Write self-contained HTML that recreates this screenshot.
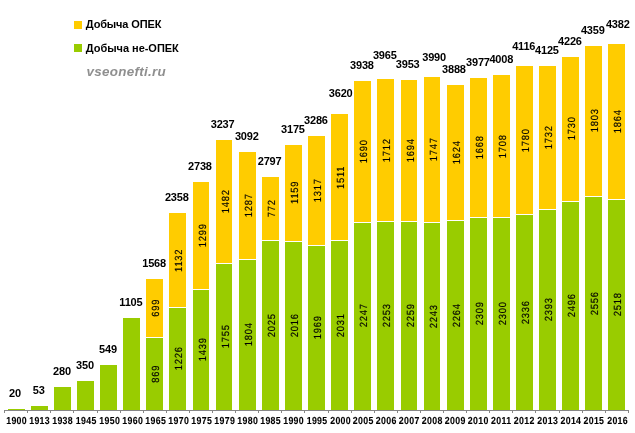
<!DOCTYPE html>
<html lang="ru"><head><meta charset="utf-8"><title>Добыча нефти</title>
<style>
html,body{margin:0;padding:0;background:#fff;}
body{width:635px;height:433px;overflow:hidden;}
svg{display:block;}
text{font-family:"Liberation Sans",sans-serif;fill:#000;}
.t{font-weight:bold;font-size:11px;text-anchor:middle;letter-spacing:-0.2px;}
.x{font-weight:bold;font-size:10.2px;text-anchor:middle;text-rendering:geometricPrecision;letter-spacing:0.4px;stroke:#000;stroke-width:0.1px;}
.i{font-size:10.4px;text-anchor:middle;letter-spacing:0.85px;text-rendering:geometricPrecision;stroke:#000;stroke-width:0.15px;}
.l{font-weight:bold;font-size:11px;}
.w{font-weight:bold;font-style:italic;font-size:13.4px;fill:#8f8f8f;letter-spacing:0.28px;}
</style></head><body>
<svg width="635" height="433" viewBox="0 0 635 433" shape-rendering="crispEdges">
<rect width="635" height="433" fill="#fff"/>
<rect x="8" y="409" width="17" height="1" fill="#99CC00"/>
<rect x="31" y="406" width="17" height="4" fill="#99CC00"/>
<rect x="54" y="387" width="17" height="23" fill="#99CC00"/>
<rect x="77" y="381" width="17" height="29" fill="#99CC00"/>
<rect x="100" y="365" width="17" height="45" fill="#99CC00"/>
<rect x="123" y="318" width="17" height="92" fill="#99CC00"/>
<rect x="146" y="279" width="17" height="58" fill="#FFCC00"/>
<rect x="146" y="338" width="17" height="72" fill="#99CC00"/>
<rect x="169" y="213" width="17" height="94" fill="#FFCC00"/>
<rect x="169" y="308" width="17" height="102" fill="#99CC00"/>
<rect x="193" y="182" width="16" height="107" fill="#FFCC00"/>
<rect x="193" y="290" width="16" height="120" fill="#99CC00"/>
<rect x="216" y="140" width="16" height="123" fill="#FFCC00"/>
<rect x="216" y="264" width="16" height="146" fill="#99CC00"/>
<rect x="239" y="152" width="17" height="107" fill="#FFCC00"/>
<rect x="239" y="260" width="17" height="150" fill="#99CC00"/>
<rect x="262" y="177" width="17" height="63" fill="#FFCC00"/>
<rect x="262" y="241" width="17" height="169" fill="#99CC00"/>
<rect x="285" y="145" width="17" height="96" fill="#FFCC00"/>
<rect x="285" y="242" width="17" height="168" fill="#99CC00"/>
<rect x="308" y="136" width="17" height="109" fill="#FFCC00"/>
<rect x="308" y="246" width="17" height="164" fill="#99CC00"/>
<rect x="331" y="114" width="17" height="126" fill="#FFCC00"/>
<rect x="331" y="241" width="17" height="169" fill="#99CC00"/>
<rect x="354" y="81" width="17" height="141" fill="#FFCC00"/>
<rect x="354" y="223" width="17" height="187" fill="#99CC00"/>
<rect x="377" y="79" width="17" height="142" fill="#FFCC00"/>
<rect x="377" y="222" width="17" height="188" fill="#99CC00"/>
<rect x="401" y="80" width="16" height="141" fill="#FFCC00"/>
<rect x="401" y="222" width="16" height="188" fill="#99CC00"/>
<rect x="424" y="77" width="16" height="145" fill="#FFCC00"/>
<rect x="424" y="223" width="16" height="187" fill="#99CC00"/>
<rect x="447" y="85" width="17" height="135" fill="#FFCC00"/>
<rect x="447" y="221" width="17" height="189" fill="#99CC00"/>
<rect x="470" y="78" width="17" height="139" fill="#FFCC00"/>
<rect x="470" y="218" width="17" height="192" fill="#99CC00"/>
<rect x="493" y="75" width="17" height="142" fill="#FFCC00"/>
<rect x="493" y="218" width="17" height="192" fill="#99CC00"/>
<rect x="516" y="66" width="17" height="148" fill="#FFCC00"/>
<rect x="516" y="215" width="17" height="195" fill="#99CC00"/>
<rect x="539" y="66" width="17" height="143" fill="#FFCC00"/>
<rect x="539" y="210" width="17" height="200" fill="#99CC00"/>
<rect x="562" y="57" width="17" height="144" fill="#FFCC00"/>
<rect x="562" y="202" width="17" height="208" fill="#99CC00"/>
<rect x="585" y="46" width="17" height="150" fill="#FFCC00"/>
<rect x="585" y="197" width="17" height="213" fill="#99CC00"/>
<rect x="608" y="44" width="17" height="155" fill="#FFCC00"/>
<rect x="608" y="200" width="17" height="210" fill="#99CC00"/>
<rect x="4" y="410" width="625" height="1" fill="#868686"/>
<path d="M4 411h1v2h-1zM27 411h1v2h-1zM50 411h1v2h-1zM73 411h1v2h-1zM97 411h1v2h-1zM120 411h1v2h-1zM143 411h1v2h-1zM166 411h1v2h-1zM189 411h1v2h-1zM212 411h1v2h-1zM235 411h1v2h-1zM258 411h1v2h-1zM281 411h1v2h-1zM304 411h1v2h-1zM328 411h1v2h-1zM351 411h1v2h-1zM374 411h1v2h-1zM397 411h1v2h-1zM420 411h1v2h-1zM443 411h1v2h-1zM466 411h1v2h-1zM489 411h1v2h-1zM512 411h1v2h-1zM535 411h1v2h-1zM559 411h1v2h-1zM582 411h1v2h-1zM605 411h1v2h-1zM628 411h1v2h-1z" fill="#868686"/>
<g shape-rendering="auto">
<text class="t" x="14.9" y="397.0">20</text>
<text class="x" transform="translate(16.6,424) scale(0.86,1)">1900</text>
<text class="t" x="38.7" y="394.0">53</text>
<text class="x" transform="translate(39.6,424) scale(0.86,1)">1913</text>
<text class="t" x="62.0" y="375.1">280</text>
<text class="x" transform="translate(62.6,424) scale(0.86,1)">1938</text>
<text class="t" x="85.0" y="369.0">350</text>
<text class="x" transform="translate(86.2,424) scale(0.86,1)">1945</text>
<text class="t" x="108.0" y="353.0">549</text>
<text class="x" transform="translate(109.7,424) scale(0.86,1)">1950</text>
<text class="t" x="130.9" y="306.0">1105</text>
<text class="x" transform="translate(132.7,424) scale(0.86,1)">1960</text>
<text class="i" transform="translate(159,307.8) rotate(-90) scale(0.9,1)">699</text>
<text class="i" transform="translate(159,373.8) rotate(-90) scale(0.9,1)">869</text>
<text class="t" x="154.1" y="267.3">1568</text>
<text class="x" transform="translate(155.7,424) scale(0.86,1)">1965</text>
<text class="i" transform="translate(182,260.3) rotate(-90) scale(0.9,1)">1132</text>
<text class="i" transform="translate(182,358.3) rotate(-90) scale(0.9,1)">1226</text>
<text class="t" x="176.8" y="201.0">2358</text>
<text class="x" transform="translate(178.7,424) scale(0.86,1)">1970</text>
<text class="i" transform="translate(206,235.3) rotate(-90) scale(0.9,1)">1299</text>
<text class="i" transform="translate(206,349.3) rotate(-90) scale(0.9,1)">1439</text>
<text class="t" x="199.9" y="170.0">2738</text>
<text class="x" transform="translate(201.7,424) scale(0.86,1)">1975</text>
<text class="i" transform="translate(229,201.3) rotate(-90) scale(0.9,1)">1482</text>
<text class="i" transform="translate(229,336.3) rotate(-90) scale(0.9,1)">1755</text>
<text class="t" x="222.6" y="127.9">3237</text>
<text class="x" transform="translate(224.7,424) scale(0.86,1)">1979</text>
<text class="i" transform="translate(252,205.3) rotate(-90) scale(0.9,1)">1287</text>
<text class="i" transform="translate(252,334.3) rotate(-90) scale(0.9,1)">1804</text>
<text class="t" x="246.8" y="140.2">3092</text>
<text class="x" transform="translate(247.7,424) scale(0.86,1)">1980</text>
<text class="i" transform="translate(275,208.3) rotate(-90) scale(0.9,1)">772</text>
<text class="i" transform="translate(275,325.3) rotate(-90) scale(0.9,1)">2025</text>
<text class="t" x="269.6" y="165.2">2797</text>
<text class="x" transform="translate(270.6,424) scale(0.86,1)">1985</text>
<text class="i" transform="translate(298,192.3) rotate(-90) scale(0.9,1)">1159</text>
<text class="i" transform="translate(298,325.3) rotate(-90) scale(0.9,1)">2016</text>
<text class="t" x="292.9" y="133.3">3175</text>
<text class="x" transform="translate(293.6,424) scale(0.86,1)">1990</text>
<text class="i" transform="translate(321,190.3) rotate(-90) scale(0.9,1)">1317</text>
<text class="i" transform="translate(321,327.3) rotate(-90) scale(0.9,1)">1969</text>
<text class="t" x="315.9" y="123.7">3286</text>
<text class="x" transform="translate(317.1,424) scale(0.86,1)">1995</text>
<text class="i" transform="translate(344,177.3) rotate(-90) scale(0.9,1)">1511</text>
<text class="i" transform="translate(344,325.3) rotate(-90) scale(0.9,1)">2031</text>
<text class="t" x="340.7" y="97.0">3620</text>
<text class="x" transform="translate(340.6,424) scale(0.86,1)">2000</text>
<text class="i" transform="translate(367,151.3) rotate(-90) scale(0.9,1)">1690</text>
<text class="i" transform="translate(367,315.3) rotate(-90) scale(0.9,1)">2247</text>
<text class="t" x="361.9" y="69.0">3938</text>
<text class="x" transform="translate(363.2,424) scale(0.86,1)">2005</text>
<text class="i" transform="translate(390,150.3) rotate(-90) scale(0.9,1)">1712</text>
<text class="i" transform="translate(390,315.3) rotate(-90) scale(0.9,1)">2253</text>
<text class="t" x="384.8" y="59.2">3965</text>
<text class="x" transform="translate(386.2,424) scale(0.86,1)">2006</text>
<text class="i" transform="translate(414,150.3) rotate(-90) scale(0.9,1)">1694</text>
<text class="i" transform="translate(414,315.3) rotate(-90) scale(0.9,1)">2259</text>
<text class="t" x="407.7" y="68.0">3953</text>
<text class="x" transform="translate(409.2,424) scale(0.86,1)">2007</text>
<text class="i" transform="translate(437,149.3) rotate(-90) scale(0.9,1)">1747</text>
<text class="i" transform="translate(437,316.3) rotate(-90) scale(0.9,1)">2243</text>
<text class="t" x="434.1" y="61.2">3990</text>
<text class="x" transform="translate(432.2,424) scale(0.86,1)">2008</text>
<text class="i" transform="translate(460,152.3) rotate(-90) scale(0.9,1)">1624</text>
<text class="i" transform="translate(460,315.3) rotate(-90) scale(0.9,1)">2264</text>
<text class="t" x="453.9" y="73.0">3888</text>
<text class="x" transform="translate(455.2,424) scale(0.86,1)">2009</text>
<text class="i" transform="translate(483,147.3) rotate(-90) scale(0.9,1)">1668</text>
<text class="i" transform="translate(483,313.3) rotate(-90) scale(0.9,1)">2309</text>
<text class="t" x="477.9" y="66.0">3977</text>
<text class="x" transform="translate(478.2,424) scale(0.86,1)">2010</text>
<text class="i" transform="translate(506,146.3) rotate(-90) scale(0.9,1)">1708</text>
<text class="i" transform="translate(506,313.3) rotate(-90) scale(0.9,1)">2300</text>
<text class="t" x="501.3" y="63.2">4008</text>
<text class="x" transform="translate(501.2,424) scale(0.86,1)">2011</text>
<text class="i" transform="translate(529,140.3) rotate(-90) scale(0.9,1)">1780</text>
<text class="i" transform="translate(529,312.3) rotate(-90) scale(0.9,1)">2336</text>
<text class="t" x="523.7" y="50.4">4116</text>
<text class="x" transform="translate(524.2,424) scale(0.86,1)">2012</text>
<text class="i" transform="translate(552,137.3) rotate(-90) scale(0.9,1)">1732</text>
<text class="i" transform="translate(552,309.3) rotate(-90) scale(0.9,1)">2393</text>
<text class="t" x="546.9" y="54.4">4125</text>
<text class="x" transform="translate(547.8,424) scale(0.86,1)">2013</text>
<text class="i" transform="translate(575,128.3) rotate(-90) scale(0.9,1)">1730</text>
<text class="i" transform="translate(575,305.3) rotate(-90) scale(0.9,1)">2496</text>
<text class="t" x="569.9" y="45.1">4226</text>
<text class="x" transform="translate(570.9,424) scale(0.86,1)">2014</text>
<text class="i" transform="translate(598,120.3) rotate(-90) scale(0.9,1)">1803</text>
<text class="i" transform="translate(598,303.3) rotate(-90) scale(0.9,1)">2556</text>
<text class="t" x="592.8" y="34.0">4359</text>
<text class="x" transform="translate(593.9,424) scale(0.86,1)">2015</text>
<text class="i" transform="translate(621,121.3) rotate(-90) scale(0.9,1)">1864</text>
<text class="i" transform="translate(621,304.3) rotate(-90) scale(0.9,1)">2518</text>
<text class="t" x="617.8" y="28.2">4382</text>
<text class="x" transform="translate(617.6,424) scale(0.86,1)">2016</text>
</g>
<rect x="74" y="21" width="8" height="8" fill="#FFCC00"/>
<rect x="74" y="44" width="8" height="8" fill="#99CC00"/>
<text class="l" x="85.8" y="28.3" style="letter-spacing:-0.14px">Добыча ОПЕК</text>
<text class="l" x="85.8" y="51.6" style="letter-spacing:-0.03px">Добыча не-ОПЕК</text>
<text class="w" x="86.6" y="75.8">vseonefti.ru</text>
</svg></body></html>
